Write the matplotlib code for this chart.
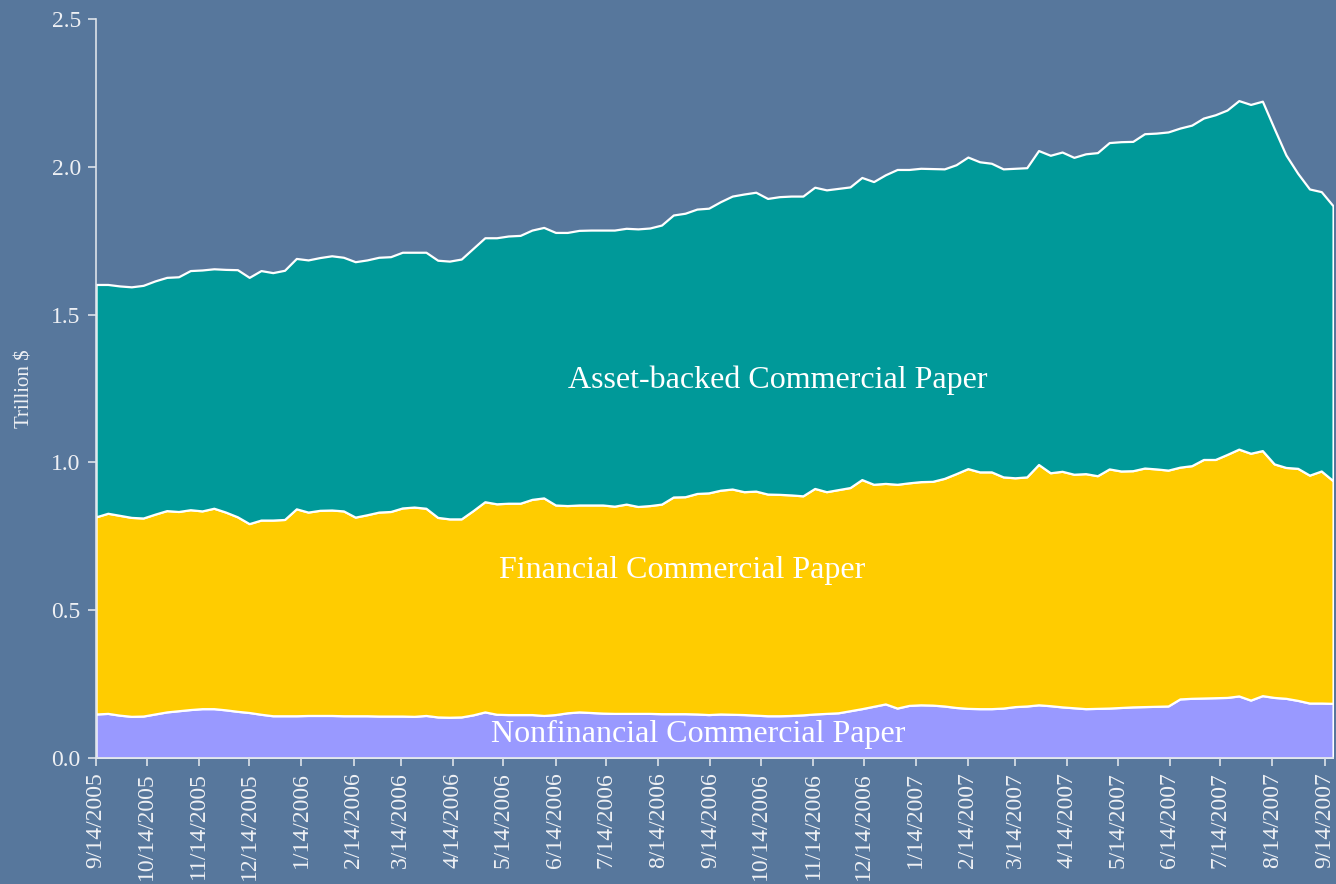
import matplotlib
matplotlib.use("Agg")
import matplotlib.pyplot as plt
import numpy as np
import pandas as pd

plt.rcParams['font.family'] = ['Liberation Serif', 'DejaVu Serif']

# weekly observations, 9/14/2005 .. 9/19/2007
weeks = pd.date_range("2005-09-14", periods=106, freq="7D")

# nonfinancial commercial paper (trillion $)
nonfin = [0.149, 0.151, 0.145, 0.141, 0.142, 0.149, 0.156, 0.160, 0.164, 0.167,
          0.167, 0.163, 0.158, 0.154, 0.148, 0.143, 0.143, 0.143, 0.144, 0.144,
          0.144, 0.143, 0.143, 0.143, 0.142, 0.142, 0.142, 0.141, 0.144, 0.139,
          0.138, 0.139, 0.146, 0.156, 0.148, 0.147, 0.147, 0.147, 0.144, 0.147,
          0.153, 0.156, 0.154, 0.152, 0.151, 0.151, 0.151, 0.151, 0.150, 0.150,
          0.150, 0.149, 0.147, 0.149, 0.148, 0.147, 0.145, 0.143, 0.143, 0.144,
          0.146, 0.149, 0.151, 0.153, 0.160, 0.167, 0.175, 0.183, 0.169, 0.178,
          0.180, 0.179, 0.176, 0.171, 0.168, 0.167, 0.167, 0.169, 0.174, 0.176,
          0.180, 0.177, 0.173, 0.170, 0.167, 0.168, 0.169, 0.171, 0.173, 0.174,
          0.175, 0.176, 0.200, 0.202, 0.203, 0.204, 0.205, 0.210, 0.196, 0.211,
          0.205, 0.202, 0.195, 0.186, 0.186, 0.185]

# nonfinancial + financial (top of the yellow band)
fin_top = [0.816, 0.828, 0.821, 0.814, 0.812, 0.825, 0.837, 0.834, 0.840, 0.836,
           0.845, 0.832, 0.816, 0.793, 0.805, 0.805, 0.807, 0.843, 0.832, 0.838,
           0.839, 0.836, 0.815, 0.823, 0.832, 0.834, 0.846, 0.849, 0.845, 0.814,
           0.809, 0.809, 0.837, 0.867, 0.860, 0.862, 0.862, 0.875, 0.880, 0.856,
           0.854, 0.856, 0.856, 0.856, 0.852, 0.859, 0.851, 0.854, 0.859, 0.883,
           0.884, 0.895, 0.897, 0.906, 0.910, 0.901, 0.903, 0.893, 0.892, 0.890,
           0.887, 0.912, 0.901, 0.908, 0.915, 0.942, 0.926, 0.929, 0.926, 0.931,
           0.935, 0.936, 0.946, 0.962, 0.979, 0.968, 0.968, 0.951, 0.948, 0.951,
           0.993, 0.965, 0.970, 0.960, 0.962, 0.955, 0.978, 0.971, 0.972, 0.981,
           0.978, 0.974, 0.984, 0.989, 1.010, 1.010, 1.027, 1.045, 1.031, 1.040,
           0.995, 0.983, 0.980, 0.957, 0.971, 0.938]

# total outstanding (top of the teal band)
total = [1.602, 1.602, 1.597, 1.594, 1.599, 1.614, 1.626, 1.628, 1.649, 1.651,
         1.655, 1.653, 1.652, 1.626, 1.649, 1.642, 1.650, 1.690, 1.685, 1.693,
         1.699, 1.694, 1.679, 1.685, 1.694, 1.696, 1.711, 1.711, 1.711, 1.684,
         1.681, 1.688, 1.724, 1.760, 1.760, 1.766, 1.768, 1.786, 1.795, 1.778,
         1.778, 1.785, 1.786, 1.786, 1.786, 1.792, 1.790, 1.793, 1.803, 1.837,
         1.843, 1.857, 1.860, 1.882, 1.901, 1.908, 1.914, 1.893, 1.899, 1.901,
         1.901, 1.931, 1.922, 1.927, 1.932, 1.964, 1.950, 1.973, 1.991, 1.991,
         1.995, 1.994, 1.993, 2.007, 2.033, 2.017, 2.012, 1.993, 1.995, 1.997,
         2.055, 2.039, 2.050, 2.032, 2.044, 2.048, 2.082, 2.085, 2.086, 2.112,
         2.114, 2.118, 2.131, 2.141, 2.165, 2.176, 2.192, 2.224, 2.211, 2.222,
         2.130, 2.040, 1.978, 1.925, 1.916, 1.868]

series_labels = ["Nonfinancial Commercial Paper", "Financial Commercial Paper",
                 "Asset-backed Commercial Paper"]
colors = ["#9999ff", "#ffcc00", "#009999"]

nonfin = np.array(nonfin)
financial = np.array(fin_top) - nonfin
abcp = np.array(total) - np.array(fin_top)

bg = "#57779c"
fig = plt.figure(figsize=(13.36, 8.84), dpi=100, facecolor=bg)
ax = fig.add_axes([0.0719, 0.1425, 0.9259, 0.836])
ax.set_facecolor(bg)

ax.stackplot(weeks, nonfin, financial, abcp, colors=colors,
             edgecolor="white", linewidth=1.6)

ax.set_xlim(weeks[0], weeks[-1])
ax.set_ylim(0, 2.5)
ax.set_yticks(np.arange(0, 2.51, 0.5))
ax.set_yticklabels([f"{v:.1f}" for v in np.arange(0, 2.51, 0.5)])

ticks = pd.date_range("2005-09-01", "2007-09-01", freq="MS") + pd.Timedelta(days=13)
ax.set_xticks(ticks)
ax.set_xticklabels([f"{d.month}/{d.day}/{d.year}" for d in ticks], rotation=90)

txt = "#eef0f4"
ax.tick_params(axis="both", colors="#dde3ea", labelcolor=txt, labelsize=17,
               length=6, width=1.2, direction="out")
ax.tick_params(axis="x", pad=4.5)
ax.tick_params(axis="y", pad=5)
for s in ["top", "right"]:
    ax.spines[s].set_visible(False)
for s in ["left", "bottom"]:
    ax.spines[s].set_color("#dde3ea")
    ax.spines[s].set_linewidth(1.2)

ax.set_ylabel("Trillion $", color=txt, fontsize=15, labelpad=12)

ax.text(0.551, 0.511, series_labels[2], transform=ax.transAxes, color="white",
        fontsize=23, ha="center", va="center")
ax.text(0.474, 0.254, series_labels[1], transform=ax.transAxes, color="white",
        fontsize=23, ha="center", va="center")
ax.text(0.487, 0.032, series_labels[0], transform=ax.transAxes, color="white",
        fontsize=23, ha="center", va="center")

fig.savefig("out.png", dpi=100, facecolor=bg)
